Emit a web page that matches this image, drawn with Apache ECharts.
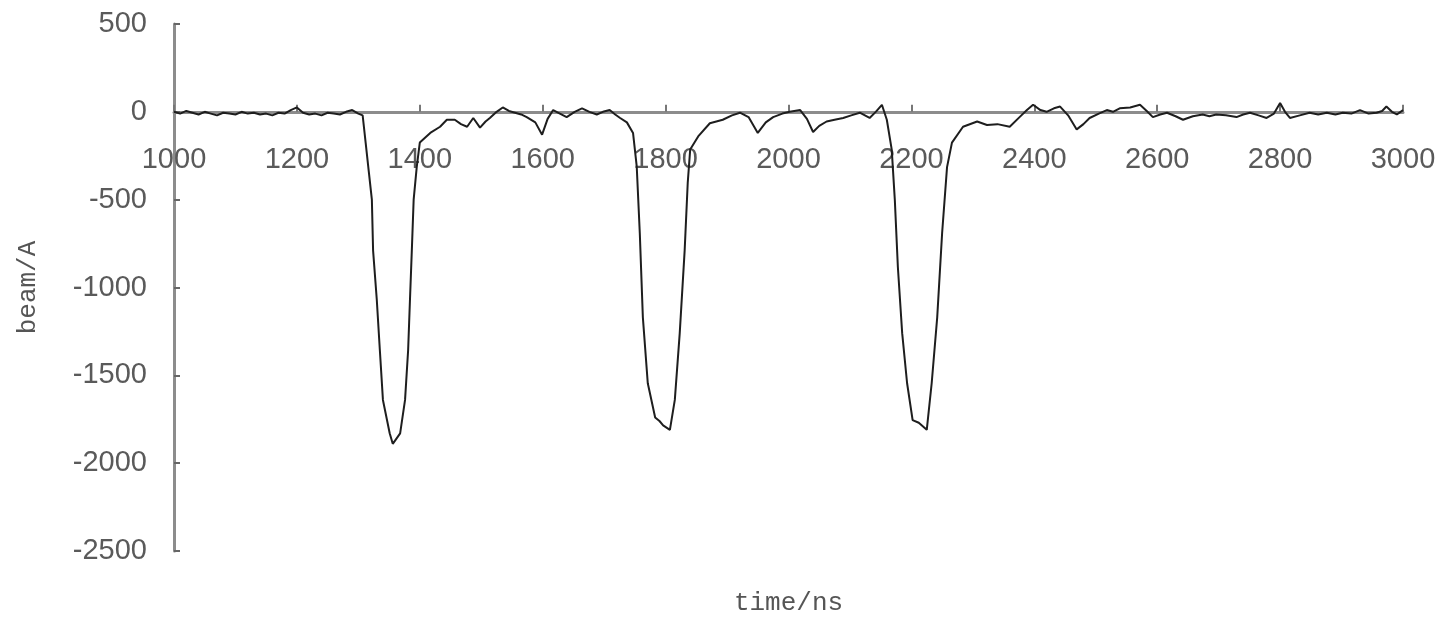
<!DOCTYPE html>
<html>
<head>
<meta charset="utf-8">
<script src="https://cdn.jsdelivr.net/npm/echarts@6/dist/echarts.min.js"></script>
<style>
  html, body { margin: 0; padding: 0; background: #ffffff; }
  #chart { width: 1454px; height: 623px; }
</style>
</head>
<body>
<div id="chart"></div>
<script>
// Time axis values (ns)
const time = [
  1000, 1010, 1020, 1030, 1040, 1050, 1060, 1070, 1080, 1090,
  1100, 1110, 1120, 1130, 1140, 1150, 1160, 1170, 1180, 1190,
  1200, 1210, 1220, 1230, 1240, 1250, 1260, 1270, 1280, 1290,
  1300, 1307, 1312, 1317, 1322, 1324, 1330, 1335, 1340, 1351,
  1356, 1362, 1368, 1376, 1381, 1384, 1387, 1390, 1395, 1400,
  1417, 1433, 1444, 1457, 1467, 1477, 1487, 1498, 1507, 1514,
  1525, 1535, 1545, 1555, 1565, 1574, 1588, 1599, 1608, 1617,
  1628, 1639, 1652, 1664, 1676, 1688, 1698, 1709, 1718, 1726,
  1737, 1747, 1753, 1758, 1763, 1771, 1783, 1790, 1796, 1807,
  1815, 1823, 1831, 1836, 1840, 1853, 1872, 1893, 1908, 1921,
  1935, 1950, 1963, 1975, 1990, 2002, 2019, 2030, 2040, 2050,
  2062, 2075, 2089, 2102, 2116, 2132, 2142, 2152, 2160, 2168,
  2173, 2178, 2185, 2193, 2202, 2212, 2225, 2233, 2242, 2250,
  2258, 2266, 2284, 2307, 2323, 2340, 2360, 2376, 2388, 2398,
  2410, 2420, 2432, 2442, 2455, 2469, 2480, 2490, 2505, 2518,
  2528, 2539, 2556, 2572, 2583, 2593, 2605, 2616, 2630, 2642,
  2658, 2674, 2685, 2696, 2712, 2729, 2740, 2751, 2765, 2778,
  2790, 2800, 2808, 2816, 2832, 2848, 2862, 2876, 2890, 2902,
  2916, 2930, 2944, 2957, 2966, 2973, 2982, 2990, 3000
];

// Beam current values (A)
const beam = [
  0, -10, 5, -5, -15, 0, -10, -20, -5, -10,
  -15, 0, -10, -5, -15, -10, -20, -5, -10, 10,
  25, -5, -15, -10, -20, -5, -10, -15, 0, 10,
  -10, -20, -180, -340, -500, -790, -1070, -1357, -1640, -1830,
  -1890, -1860, -1830, -1640, -1357, -1070, -790, -500, -315, -175,
  -120, -85, -45, -45, -70, -85, -35, -90, -55, -35,
  0, 25, 5, -5, -15, -30, -60, -130, -40, 10,
  -10, -30, 0, 20, 0, -15, 0, 10, -15, -35,
  -60, -120, -310, -690, -1170, -1545, -1740, -1760, -1785, -1810,
  -1640, -1260, -790, -405, -215, -140, -65, -45, -20, -5,
  -30, -120, -60, -30, -10, 0, 10, -40, -115, -80,
  -55, -45, -35, -20, -5, -35, 0, 40, -45, -215,
  -500, -885, -1260, -1545, -1755, -1770, -1810, -1545, -1170, -690,
  -315, -175, -85, -55, -75, -70, -85, -30, 10, 40,
  10, 0, 20, 30, -20, -100, -70, -35, -10, 10,
  0, 20, 25, 40, 5, -30, -15, -5, -25, -45,
  -25, -15, -25, -15, -20, -30, -15, -5, -20, -35,
  -10, 50, 0, -35, -20, -5, -15, -5, -15, -5,
  -10, 10, -10, -5, 5, 30, 0, -15, 10
];

const yTicks = [500, 0, -500, -1000, -1500, -2000, -2500];

const GRID_TOP = 24, GRID_BOTTOM = 72, H = 623;
const plotH = H - GRID_TOP - GRID_BOTTOM;
const yMin = yTicks[yTicks.length - 1], yMax = yTicks[0];
// distance from the bottom of the grid up to the zero line
const zeroOffset = plotH * (0 - yMin) / (yMax - yMin);

const chart = echarts.init(document.getElementById('chart'), null, { renderer: 'canvas' });

const points = time.map((t, i) => [t, beam[i]]);

chart.setOption({
  animation: false,
  backgroundColor: '#ffffff',
  grid: { left: 174, right: 51, top: GRID_TOP, bottom: GRID_BOTTOM, containLabel: false, outerBoundsMode: 'none' },
  xAxis: {
    type: 'value',
    position: 'bottom',
    offset: -zeroOffset,
    min: 1000,
    max: 3000,
    interval: 200,
    name: 'time/ns',
    nameLocation: 'middle',
    nameGap: 478,
    nameTextStyle: { fontFamily: 'Liberation Mono', fontSize: 26, color: '#555555' },
    axisLine: { show: true, onZero: false, lineStyle: { color: '#8c8c8c', width: 3 } },
    axisTick: { show: true, inside: true, length: 7, lineStyle: { color: '#777777', width: 2 } },
    axisLabel: { margin: 34, fontSize: 29, color: '#5a5a5a', fontFamily: 'Liberation Sans',
                 showMinLabel: true, showMaxLabel: true, formatter: v => String(v) },
    splitLine: { show: false }
  },
  yAxis: {
    type: 'value',
    min: yMin,
    max: yMax,
    interval: 500,
    name: 'beam/A',
    nameLocation: 'middle',
    nameGap: 133,
    nameRotate: 90,
    nameTextStyle: { fontFamily: 'Liberation Mono', fontSize: 26, color: '#555555' },
    axisLine: { show: true, onZero: false, lineStyle: { color: '#8c8c8c', width: 3 } },
    axisTick: { show: true, inside: true, length: 6, lineStyle: { color: '#666666', width: 2 } },
    axisLabel: { margin: 27, fontSize: 29, color: '#5a5a5a', fontFamily: 'Liberation Sans',
                 showMinLabel: true, showMaxLabel: true, formatter: v => String(v) },
    splitLine: { show: false }
  },
  series: [{
    type: 'line',
    data: points,
    showSymbol: false,
    smooth: false,
    lineStyle: { color: '#1e1e1e', width: 2 },
    z: 3
  }]
});
</script>
</body>
</html>
